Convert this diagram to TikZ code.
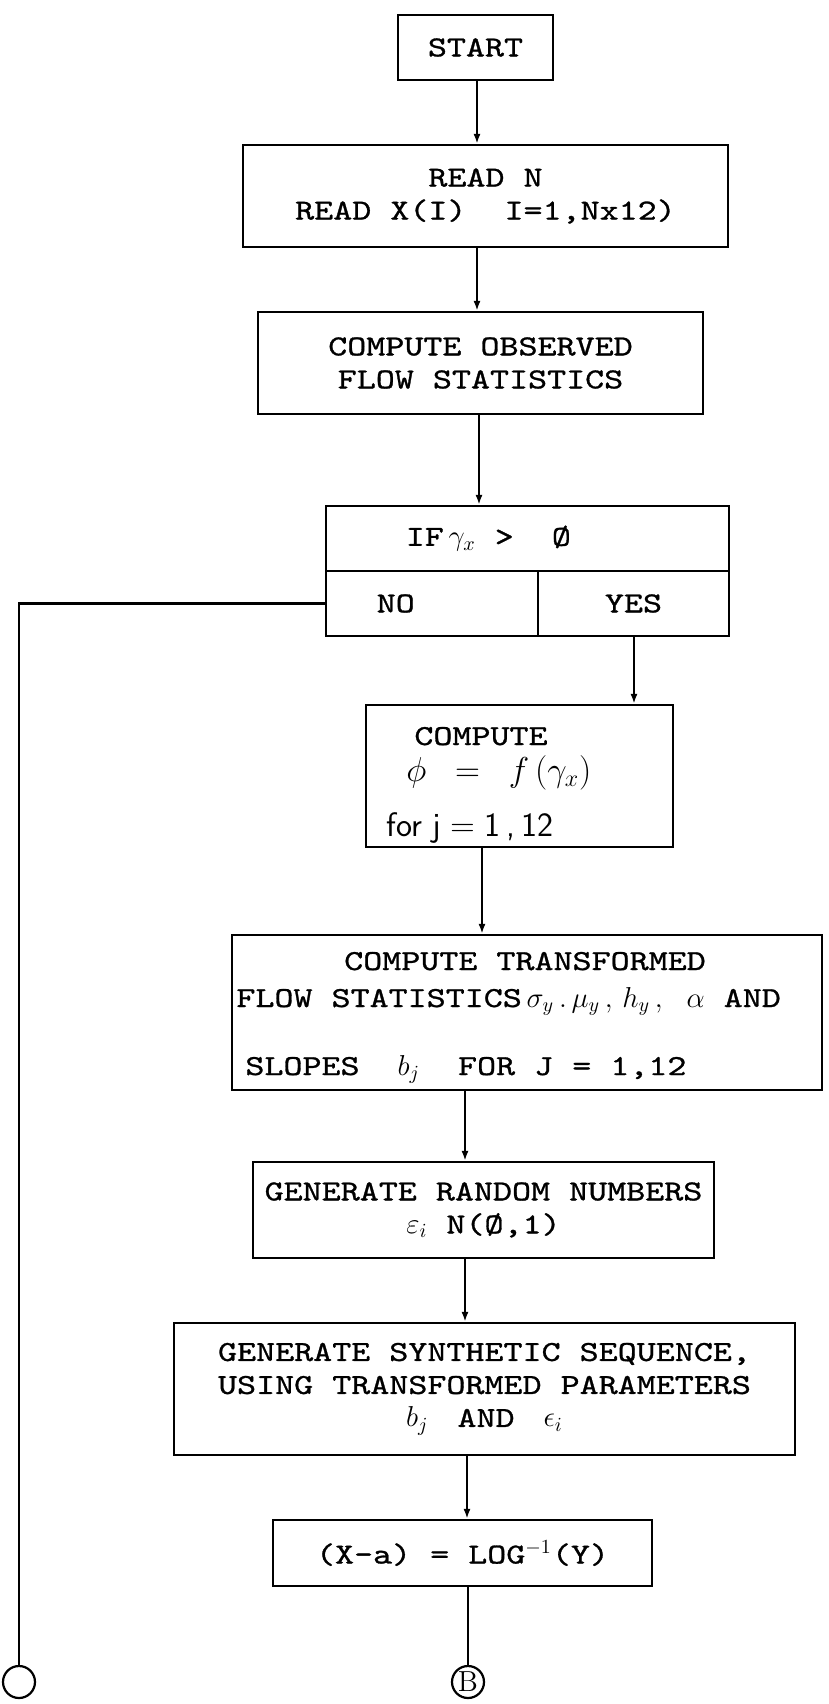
\documentclass[tikz,border=0pt]{standalone}
\usepackage{fontspec}
\newfontfamily\tw{lmmono10-regular.otf}[FakeBold=1.0, FakeStretch=1.25]
\usetikzlibrary{arrows.meta}
\begin{document}
\begin{tikzpicture}[x=0.5pt,y=-0.5pt,
  every node/.style={font=\tw\fontsize{14.5}{16.5}\selectfont},
  box/.style={draw, line width=1.1pt, inner sep=0pt, align=center},
  lbl/.style={inner sep=0pt},
  hand/.style={inner sep=0pt, font=\fontsize{17}{18}\selectfont},
  conn/.style={line width=1.1pt, -{Latex[length=5pt,width=3.5pt]}},
  plain/.style={line width=1.1pt},
  joint/.style={draw, circle, line width=1.1pt, minimum size=16pt, inner sep=0pt}]
\useasboundingbox (0,0) rectangle (829,1704);

\node[box, minimum width=77.5pt, minimum height=32.5pt] (start) at (475.5,47.5) {START};
\node[box, minimum width=242.5pt, minimum height=51pt] (read) at (485.5,196) {READ N\\READ X(I)\ \ I=1,Nx12)};
\node[box, minimum width=222.5pt, minimum height=51pt] (obs) at (480.5,363) {COMPUTE OBSERVED\\FLOW STATISTICS};
\node[box, minimum width=201.5pt, minimum height=32.5pt] (ifc) at (527.5,538.5) {IF\,$\gamma_{x}$\ > \ Ø\hspace{2.7em}};
\node[box, minimum width=106pt, minimum height=32.5pt] (no) at (432,603.5) {NO\hspace{2.5em}};
\node[box, minimum width=95.5pt, minimum height=32.5pt] (yes) at (633.5,603.5) {YES};
\node[box, minimum width=153.5pt, minimum height=71pt] (phi) at (519.5,776) {};
\node[lbl, anchor=base] (phi1) at (481,745) {COMPUTE};
\node[hand, anchor=base west] (phi2) at (406,781) {$\phi\;\;=\;\;f\,(\gamma_x)$};
\node[hand, anchor=base west] (phi3) at (386,836) {\sffamily for j\;=\;1\,,\,12};
\node[box, minimum width=295pt, minimum height=77.5pt] (tr) at (527,1012.5) {};
\node[lbl, anchor=base] (tr1) at (525,970) {COMPUTE TRANSFORMED};
\node[lbl, anchor=base west] (tr2) at (236,1007) {FLOW STATISTICS$\,\sigma_{y}\,.\,\mu_{y}\,,\,h_{y}\,,\ \alpha$\ AND};
\node[lbl, anchor=base west] (tr3) at (245,1075) {SLOPES\ \ $b_j$\ \ FOR J = 1,12};
\node[box, minimum width=230.5pt, minimum height=48pt] (gr) at (483.5,1210) {GENERATE RANDOM NUMBERS\\$\varepsilon_{i}$\ N(Ø,1)};
\node[box, minimum width=310.5pt, minimum height=66pt] (sy) at (484.5,1389) {GENERATE SYNTHETIC SEQUENCE,\\USING TRANSFORMED PARAMETERS\\$b_j$\quad AND\quad $\epsilon_i$};
\node[box, minimum width=189.5pt, minimum height=33pt] (xa) at (462.5,1553) {(X-a) = LOG$^{-1}$(Y)};
\node[joint] (cb) at (468,1682) {\rmfamily B};
\node[joint] (cl) at (19,1682) {};

\coordinate (x1) at (477,0);
\coordinate (x2) at (479,0);
\coordinate (x3) at (634,0);
\coordinate (x4) at (482,0);
\coordinate (x5) at (465,0);
\coordinate (x6) at (467,0);

\draw[conn] (start.south -| x1) -- (read.north -| x1);
\draw[conn] (read.south -| x1) -- (obs.north -| x1);
\draw[conn] (obs.south -| x2) -- (ifc.north -| x2);
\draw[conn] (yes.south -| x3) -- (phi.north -| x3);
\draw[conn] (phi.south -| x4) -- (tr.north -| x4);
\draw[conn] (tr.south -| x5) -- (gr.north -| x5);
\draw[conn] (gr.south -| x5) -- (sy.north -| x5);
\draw[conn] (sy.south -| x6) -- (xa.north -| x6);
\draw[plain] (xa.south -| cb) -- (cb.north);
\draw[plain] (no.west) -- (no.west -| cl) -- (cl.north);
\end{tikzpicture}
\end{document}
